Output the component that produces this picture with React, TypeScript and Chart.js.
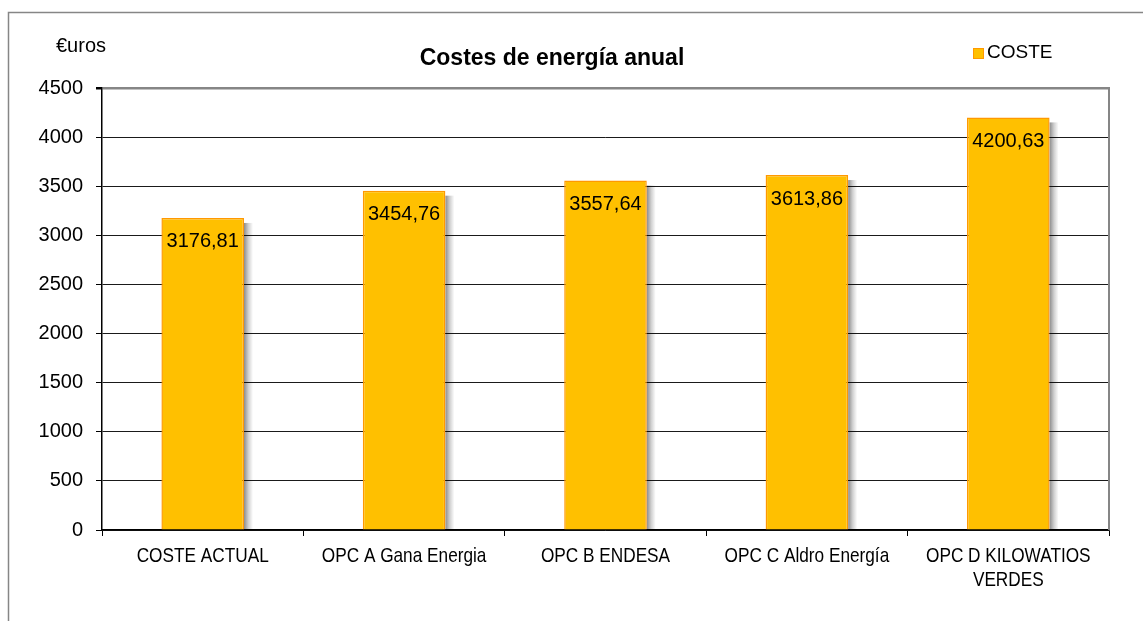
import React, { useEffect, useRef } from "react";
import { Chart, registerables } from "chart.js";

Chart.register(...registerables);

const categories: (string | string[])[] = [
  "COSTE ACTUAL",
  "OPC A Gana Energia",
  "OPC B ENDESA",
  "OPC C Aldro Energía",
  ["OPC D KILOWATIOS", "VERDES"],
];
const costValues = [3176.81, 3454.76, 3557.64, 3613.86, 4200.63];
const seriesName = "COSTE";
const chartTitle = "Costes de energía anual";
const yUnitLabel = "€uros";
const yMin = 0;
const yMax = 4500;
const yStep = 500;

const FONT = "'Liberation Sans', Arial, sans-serif";
const FILL = "#FFC000";
const EDGE = "#FF9900";

const fmt = (v: number) => v.toFixed(2).replace(".", ",");

const decorPlugin = {
  id: "decor",
  beforeDraw(chart: any) {
    const ctx = chart.ctx;
    ctx.save();
    ctx.fillStyle = "#ffffff";
    ctx.fillRect(0, 0, chart.width, chart.height);
    ctx.strokeStyle = "#868686";
    ctx.lineWidth = 1.5;
    ctx.strokeRect(8.5, 12.5, 3000, 3000);
    ctx.restore();
  },
  beforeDatasetsDraw(chart: any) {
    const ctx = chart.ctx;
    const meta = chart.getDatasetMeta(0);
    ctx.save();
    meta.data.forEach((bar: any) => {
      const right = bar.x + bar.width / 2;
      const top = bar.y + 5;
      const bottom = bar.base;
      const g = ctx.createLinearGradient(right, 0, right + 9, 0);
      g.addColorStop(0, "rgba(0,0,0,0.45)");
      g.addColorStop(0.5, "rgba(0,0,0,0.18)");
      g.addColorStop(1, "rgba(0,0,0,0)");
      ctx.fillStyle = g;
      ctx.fillRect(right, top, 9, bottom - top);
    });
    ctx.restore();
  },
  afterDatasetsDraw(chart: any) {
    const ctx = chart.ctx;
    const area = chart.chartArea;
    ctx.save();
    ctx.strokeStyle = "#868686";
    ctx.lineWidth = 2;
    ctx.beginPath();
    ctx.moveTo(area.right, area.top - 1);
    ctx.lineTo(area.right, area.bottom);
    ctx.stroke();
    // data labels
    const meta = chart.getDatasetMeta(0);
    ctx.fillStyle = "#000";
    ctx.font = `20px ${FONT}`;
    ctx.textAlign = "center";
    ctx.textBaseline = "middle";
    meta.data.forEach((bar: any, i: number) => {
      ctx.fillText(fmt(costValues[i]), bar.x, bar.y + 24);
    });
    // category labels (condensed)
    const xs = chart.scales.x;
    ctx.font = `21px ${FONT}`;
    categories.forEach((lab, i) => {
      const lines = Array.isArray(lab) ? lab : [lab];
      const cx = xs.getPixelForTick(i);
      lines.forEach((ln, j) => {
        ctx.save();
        ctx.translate(cx, 556 + j * 24);
        ctx.scale(0.82, 1);
        ctx.fillText(ln, 0, 0);
        ctx.restore();
      });
    });
    // title
    ctx.font = `bold 23px ${FONT}`;
    ctx.fillText(chartTitle, 552, 59);
    // unit label
    ctx.font = `20px ${FONT}`;
    ctx.textAlign = "left";
    ctx.fillText(yUnitLabel, 56, 46);
    // legend
    ctx.fillStyle = FILL;
    ctx.fillRect(973.5, 48.5, 10, 10);
    ctx.strokeStyle = EDGE;
    ctx.lineWidth = 1;
    ctx.strokeRect(973.5, 48.5, 10, 10);
    ctx.fillStyle = "#000";
    ctx.font = `19px ${FONT}`;
    ctx.fillText(seriesName, 987, 53);
    ctx.restore();
  },
};

export default function App() {
  const ref = useRef<HTMLCanvasElement | null>(null);
  useEffect(() => {
    if (!ref.current) return;
    const chart = new Chart(ref.current, {
      type: "bar",
      data: {
        labels: categories,
        datasets: [
          {
            label: seriesName,
            data: costValues,
            backgroundColor: FILL,
            borderColor: EDGE,
            borderWidth: 1.5,
            barPercentage: 0.41,
            categoryPercentage: 1,
          },
        ],
      },
      options: {
        responsive: false,
        animation: false,
        layout: { padding: { top: 88, right: 34, left: 0, bottom: 0 } },
        plugins: {
          legend: { display: false },
          title: { display: false },
          tooltip: { enabled: false },
        },
        scales: {
          x: {
            offset: true,
            grid: {
              offset: true,
              drawOnChartArea: false,
              drawTicks: true,
              tickLength: 6,
              color: "#000",
            },
            border: { color: "#000", width: 1.5 },
            ticks: { display: false },
            afterFit: (s: any) => {
              s.height = 91;
            },
          },
          y: {
            min: yMin,
            max: yMax,
            ticks: {
              stepSize: yStep,
              color: "#000",
              padding: 13,
              font: { family: FONT, size: 20 },
              callback: (v: any) => String(v),
            },
            grid: {
              color: (c: any) => (c.tick && c.tick.value === yMax ? "#868686" : "#1a1a1a"),
              lineWidth: (c: any) => (c.tick && c.tick.value === yMax ? 2.5 : 1),
              tickColor: "#000",
              tickLength: 6,
            },
            border: { color: "#000", width: 1.5 },
            afterFit: (s: any) => {
              s.width = 102;
            },
          },
        },
      },
      plugins: [decorPlugin],
    });
    return () => chart.destroy();
  }, []);
  return (
    <div style={{ position: "absolute", left: 0, top: 0, width: 1143, height: 621 }}>
      <canvas ref={ref} width={1143} height={621} style={{ display: "block" }} />
    </div>
  );
}
